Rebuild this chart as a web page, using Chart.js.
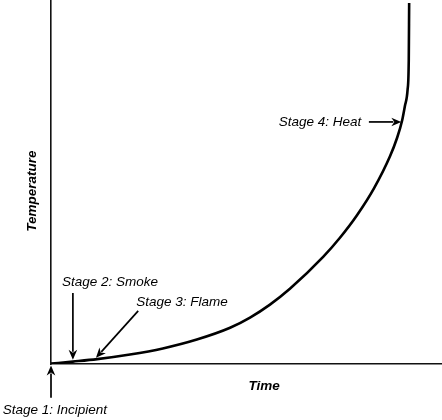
<!DOCTYPE html>
<html>
<head>
<meta charset="utf-8">
<script src="https://cdn.jsdelivr.net/npm/chart.js@4.4.1/dist/chart.umd.min.js"></script>
<style>
  html, body { margin: 0; padding: 0; background: #fff; }
  #wrap { width: 442px; height: 420px; position: relative; }
</style>
</head>
<body>
<div id="wrap"><canvas id="grafico"></canvas></div>
<script>
// DATOS DE LA CURVA (tiempo vs temperatura, unidades relativas 0-100)
const tiempo      = [0, 5.6, 11.8, 20.2, 28.6, 37.3, 45.8, 50.9, 56.0, 61.1, 69.6, 73.9, 78.3, 82.6, 86.7, 88.5, 89.8, 90.5, 91.2, 91.5, 91.6];
const temperatura = [0.1, 0.66, 1.34, 2.6, 4.28, 6.72, 9.95, 12.75, 16.32, 20.66, 29.42, 34.67, 40.92, 48.23, 57.05, 62.09, 66.9, 70.82, 75.37, 83.5, 99.2];

const etiquetaX = "Time";
const etiquetaY = "Temperature";
const etapas = ["Stage 1: Incipient", "Stage 2: Smoke", "Stage 3: Flame", "Stage 4: Heat"];

// Anotaciones: texto + flecha, todo en unidades de los ejes
const anotaciones = [
    { texto: etapas[0], tx: 1.0,  ty: -12.6, desde: [0, -9.3],   hasta: [0, -0.4] },
    { texto: etapas[1], tx: 15.1, ty: 22.5,  desde: [5.6, 19.5], hasta: [5.6, 1.2] },
    { texto: etapas[2], tx: 33.5, ty: 17.0,  desde: [22.3, 14.6], hasta: [11.5, 1.7] },
    { texto: etapas[3], tx: 68.8, ty: 66.5,  desde: [81.3, 66.5], hasta: [89.6, 66.5] }
];

const FUENTE = '"Liberation Sans", Arial, sans-serif';

function flecha(ctx, x1, y1, x2, y2) {
    const ang = Math.atan2(y2 - y1, x2 - x1);
    const c = Math.cos(ang), s = Math.sin(ang);
    const largo = 10, ancho = 4.3;
    ctx.beginPath();
    ctx.moveTo(x1, y1);
    ctx.lineTo(x2 - c * largo * 0.8, y2 - s * largo * 0.8);
    ctx.stroke();
    ctx.beginPath();
    ctx.moveTo(x2, y2);
    ctx.lineTo(x2 - c * largo - s * ancho, y2 - s * largo + c * ancho);
    ctx.lineTo(x2 - c * largo * 0.7, y2 - s * largo * 0.7);
    ctx.lineTo(x2 - c * largo + s * ancho, y2 - s * largo - c * ancho);
    ctx.closePath();
    ctx.fill();
}

// Plugin para titulos de ejes y flechas de etapas
const pluginEtapas = {
    id: 'etapas',
    afterDraw(chart) {
        const ctx = chart.ctx;
        const sx = chart.scales.x, sy = chart.scales.y;
        ctx.save();
        ctx.fillStyle = '#000';
        ctx.strokeStyle = '#000';
        ctx.lineWidth = 1.7;
        ctx.textAlign = 'center';
        ctx.textBaseline = 'middle';

        // titulos de ejes
        ctx.font = 'italic bold 13.5px ' + FUENTE;
        ctx.fillText(etiquetaX, sx.getPixelForValue(54.5), sy.getPixelForValue(-6));
        ctx.save();
        ctx.translate(sx.getPixelForValue(-4.9), sy.getPixelForValue(47.5));
        ctx.rotate(-Math.PI / 2);
        ctx.fillText(etiquetaY, 0, 0);
        ctx.restore();

        // etapas
        ctx.font = 'italic 13.5px ' + FUENTE;
        anotaciones.forEach(a => {
            ctx.fillText(a.texto, sx.getPixelForValue(a.tx), sy.getPixelForValue(a.ty));
            flecha(ctx,
                sx.getPixelForValue(a.desde[0]), sy.getPixelForValue(a.desde[1]),
                sx.getPixelForValue(a.hasta[0]), sy.getPixelForValue(a.hasta[1]));
        });
        ctx.restore();
    }
};

document.addEventListener("DOMContentLoaded", () => {
    const puntos = tiempo.map((t, i) => ({ x: t, y: temperatura[i] }));

    new Chart(document.getElementById("grafico"), {
        type: 'scatter',
        data: {
            datasets: [{
                data: puntos,
                showLine: true,
                borderColor: '#000',
                borderWidth: 2.6,
                pointRadius: 0,
                cubicInterpolationMode: 'monotone',
                fill: false
            }]
        },
        options: {
            responsive: true,
            maintainAspectRatio: false,
            animation: false,
            layout: { padding: { left: 51, right: 0, top: 0, bottom: 56 } },
            plugins: {
                legend: { display: false },
                tooltip: { enabled: false }
            },
            scales: {
                x: {
                    type: 'linear', min: 0, max: 100,
                    ticks: { display: false },
                    grid: { display: false, drawTicks: false },
                    border: { display: true, color: '#111', width: 1.6 }
                },
                y: {
                    type: 'linear', min: 0, max: 100,
                    ticks: { display: false },
                    grid: { display: false, drawTicks: false },
                    border: { display: true, color: '#111', width: 1.6 }
                }
            }
        },
        plugins: [pluginEtapas]
    });
});
</script>
</body>
</html>
